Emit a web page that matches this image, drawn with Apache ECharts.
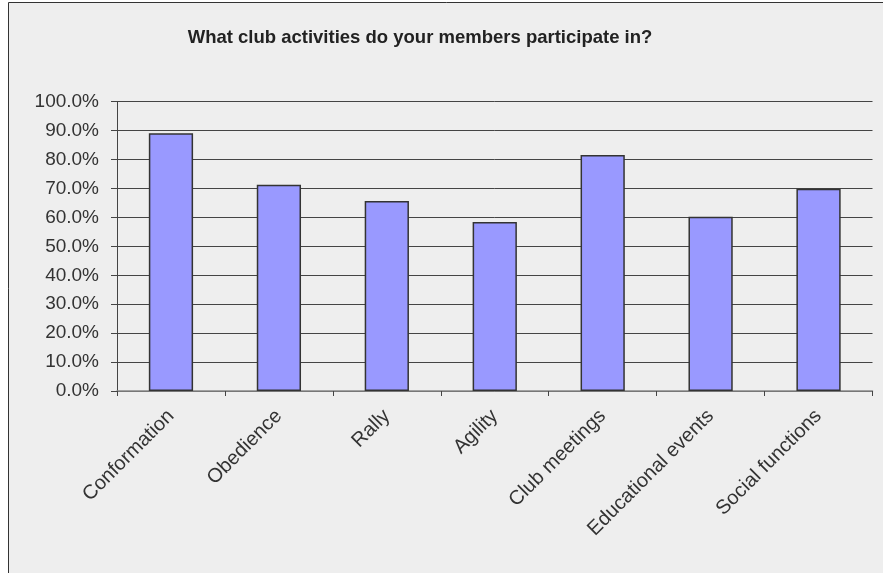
<!DOCTYPE html>
<html>
<head>
<meta charset="utf-8">
<script src="https://cdn.jsdelivr.net/npm/echarts@6/dist/echarts.min.js"></script>
<style>
html,body{margin:0;padding:0;background:#ffffff;}
#chart{width:883px;height:573px;}
</style>
</head>
<body>
<div id="chart"></div>
<script>
var titleText = 'What club activities do your members participate in?';
var categories = ['Conformation', 'Obedience', 'Rally', 'Agility', 'Club meetings', 'Educational events', 'Social functions'];
var participation = [89.1, 71.3, 65.7, 58.4, 81.6, 60.2, 69.9];
var yTicks = [0, 10, 20, 30, 40, 50, 60, 70, 80, 90, 100];

var chart = echarts.init(document.getElementById('chart'), null, {renderer: 'canvas'});
var font = '"Liberation Sans", Arial, sans-serif';
chart.setOption({
  backgroundColor: '#ffffff',
  animation: false,
  graphic: [{
    type: 'rect', z: -10, silent: true,
    shape: {x: 8.5, y: 2.5, width: 900, height: 600},
    style: {fill: '#eeeeee', stroke: '#333333', lineWidth: 1}
  }],
  title: {
    text: titleText,
    left: 415, top: 23, textAlign: 'center',
    textStyle: {fontFamily: font, fontSize: 18.5, fontWeight: 'bold', color: '#222222'}
  },
  grid: {left: 117, right: 10.5, top: 101.7, bottom: 182, containLabel: false},
  xAxis: {
    type: 'category',
    data: categories,
    boundaryGap: true,
    axisLine: {show: true, lineStyle: {color: '#888888', width: 1.5}},
    axisTick: {show: true, inside: false, length: 5, alignWithLabel: false, lineStyle: {color: '#444444'}},
    axisLabel: {rotate: 45, margin: 22, fontFamily: font, fontSize: 20, color: '#333333', interval: 0}
  },
  yAxis: {
    type: 'value',
    min: yTicks[0], max: yTicks[yTicks.length - 1], interval: 10,
    axisLine: {show: true, lineStyle: {color: '#444444', width: 1}},
    axisTick: {show: true, inside: false, length: 6, lineStyle: {color: '#444444'}},
    axisLabel: {margin: 18, fontFamily: font, fontSize: 19, color: '#333333',
      formatter: function (v) { return v.toFixed(1) + '%'; }},
    splitLine: {show: true, lineStyle: {color: '#444444', width: 1}}
  },
  series: [{
    type: 'bar',
    data: participation,
    barWidth: '41%',
    itemStyle: {color: '#9999ff', borderColor: '#333333', borderWidth: 1.5}
  }]
});
</script>
</body>
</html>
